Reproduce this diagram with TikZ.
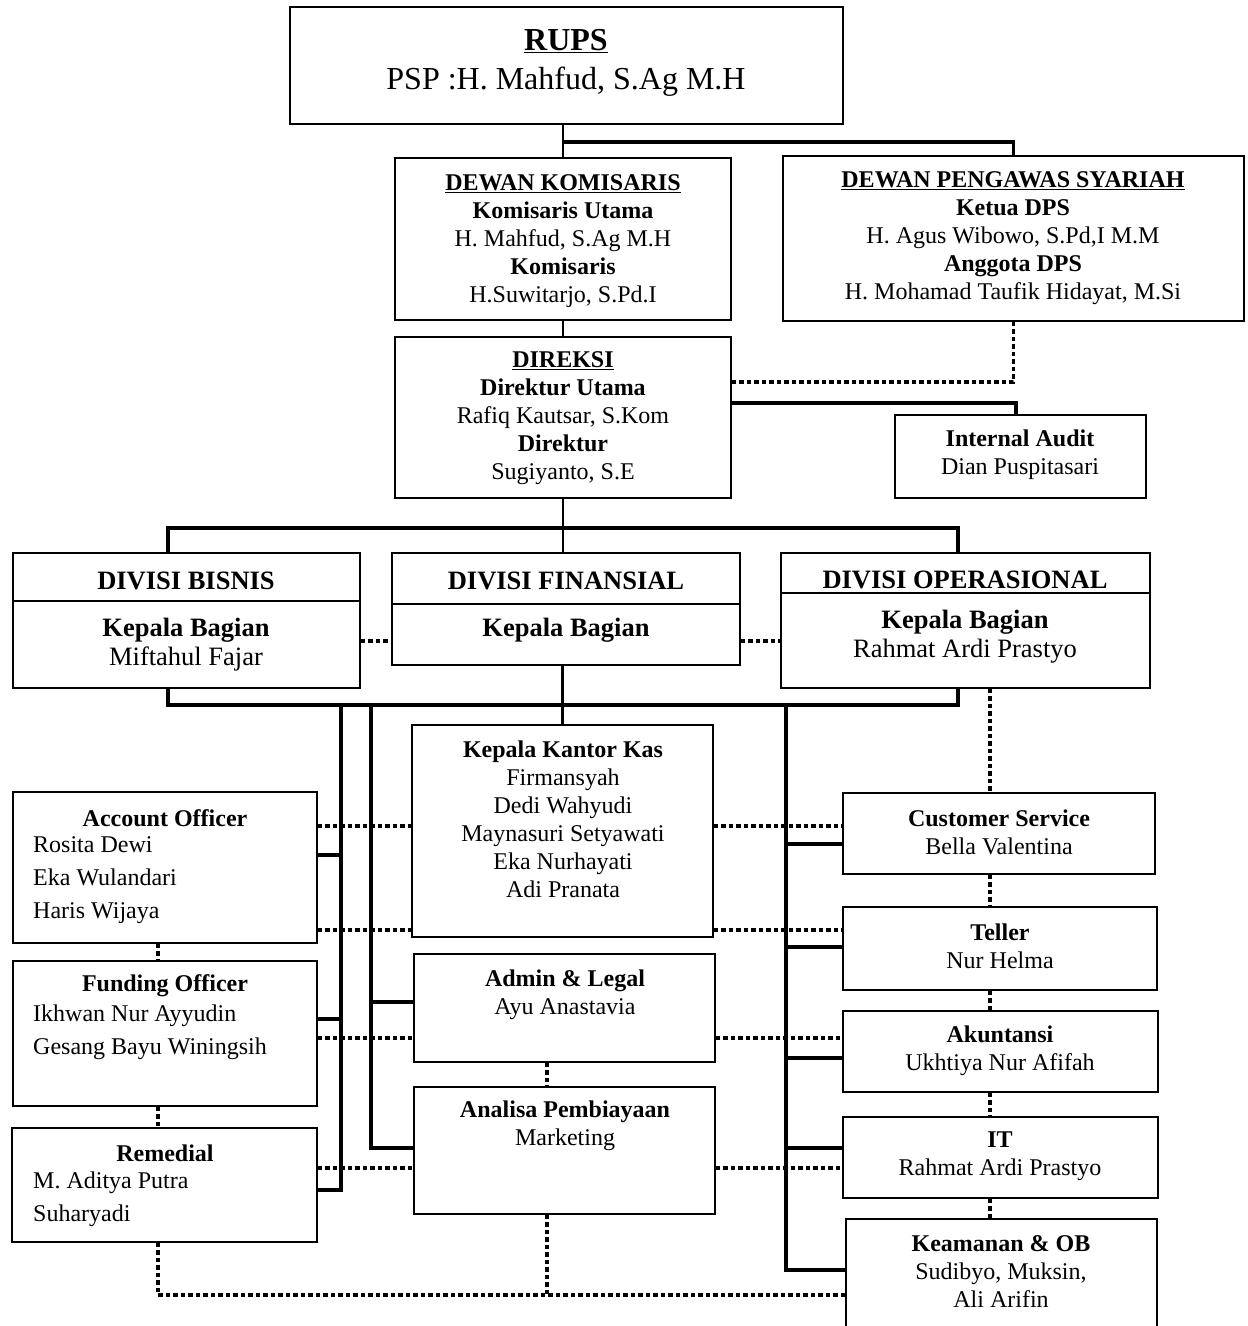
\documentclass[tikz,border=0pt]{standalone}
\usepackage{fontspec}
\setmainfont{Liberation Serif}
\newcommand\fa{\fontsize{24}{28}\selectfont}
\newcommand\fb{\fontsize{26.5}{29}\selectfont}
\newcommand\fc{\fontsize{32}{38}\selectfont}
\newcommand\fl{\fontsize{24}{33}\selectfont}
\newcommand\orgbox[5]{\node[box, minimum width={#4-#2}, minimum height={#5-#3}] (#1) at ({(#2+#4)/2},{(#3+#5)/2}) {};}
\begin{document}
\begin{tikzpicture}[x=1pt,y=-1pt,
  box/.style={draw, line width=1.8pt, inner sep=0pt},
  bar/.style={line width=3.8pt},
  stem/.style={line width=2.7pt},
  dotl/.style={line width=3.8pt, dash pattern=on 4.5pt off 3pt},
  txt/.style={inner sep=0pt, align=center, font=\fa},
  txtb/.style={inner sep=0pt, align=center, font=\fb},
  txtl/.style={inner sep=0pt, align=left, font=\fl, anchor=west},
]
\useasboundingbox[fill=white] (0,0) rectangle (1248,1326);

% boxes
\orgbox{rups}{290}{7}{843}{124}
\orgbox{dk}{395}{158}{731}{320}
\orgbox{dps}{783}{156}{1244}{321}
\orgbox{dir}{395}{337}{731}{498}
\orgbox{ia}{895}{415}{1146}{498}
\orgbox{dbh}{13}{553}{360}{601}
\orgbox{db}{13}{601}{360}{688}
\orgbox{dfh}{392}{553}{740}{604}
\orgbox{df}{392}{604}{740}{665}
\orgbox{doh}{781}{553}{1150}{593}
\orgbox{dop}{781}{593}{1150}{688}
\orgbox{ao}{13}{792}{317}{943}
\orgbox{fo}{13}{961}{317}{1106}
\orgbox{rem}{12}{1128}{317}{1242}
\orgbox{kkk}{412}{725}{713}{937}
\orgbox{adm}{414}{954}{715}{1062}
\orgbox{ana}{414}{1087}{715}{1214}
\orgbox{cs}{843}{793}{1155}{874}
\orgbox{tel}{843}{907}{1157}{990}
\orgbox{aku}{843}{1011}{1158}{1092}
\orgbox{it}{843}{1117}{1158}{1198}
\orgbox{kea}{846}{1219}{1157}{1336}

% helper coordinates
\coordinate (j1) at (563,142);
\coordinate (y382) at (0,382);
\coordinate (y403) at (0,403);
\coordinate (iaT) at (1016,403);
\coordinate (d1) at (168,528);
\coordinate (d2) at (958,528);
\coordinate (e1) at (168,705);
\coordinate (e2) at (958,705);
\coordinate (v1) at (341,705);
\coordinate (v2) at (371,705);
\coordinate (v3) at (786,705);
\coordinate (yAo) at (0,855);
\coordinate (yFo) at (0,1019);
\coordinate (yRem) at (0,1190);
\coordinate (yAdm) at (0,1002);
\coordinate (yAna) at (0,1148);
\coordinate (yCs) at (0,844);
\coordinate (yTel) at (0,947);
\coordinate (yAku) at (0,1058);
\coordinate (yIt) at (0,1148);
\coordinate (yKea) at (0,1270);
\coordinate (y641) at (0,641);
\coordinate (y826) at (0,826);
\coordinate (y930) at (0,930);
\coordinate (y1038) at (0,1038);
\coordinate (y1168) at (0,1168);
\coordinate (y1295) at (0,1295);
\coordinate (lx) at (158,0);
\coordinate (mx) at (547,0);
\coordinate (rx) at (990,0);

% solid connectors
\draw[stem] (dk.north) -- (dk.north |- rups.south);
\draw[bar] (j1) -| (dps.north);
\draw[stem] (dk.south) -- (dir.north);
\draw[bar] (dir.east |- y403) -- (iaT) -- (iaT |- ia.north);
\draw[stem] (dir.south) -- (dir.south |- d1) -- (dir.south |- dfh.north);
\draw[bar] (dbh.north -| d1) -- (d1) -- (d2) -- (doh.north -| d2);
\draw[bar] (db.south -| e1) -- (e1) -- (e2) -- (dop.south -| e2);
\draw[bar] (kkk.north |- df.south) -- (kkk.north);
\draw[bar] (v1) |- (rem.east |- yRem);
\draw[bar] (ao.east |- yAo) -- (v1 |- yAo);
\draw[bar] (fo.east |- yFo) -- (v1 |- yFo);
\draw[bar] (v2) |- (ana.west |- yAna);
\draw[bar] (v2 |- yAdm) -- (adm.west |- yAdm);
\draw[bar] (v3) |- (kea.west |- yKea);
\draw[bar] (v3 |- yCs) -- (cs.west |- yCs);
\draw[bar] (v3 |- yTel) -- (tel.west |- yTel);
\draw[bar] (v3 |- yAku) -- (aku.west |- yAku);
\draw[bar] (v3 |- yIt) -- (it.west |- yIt);

% dotted connectors
\draw[dotl] (dps.south) |- (dir.east |- y382);
\draw[dotl] (db.east |- y641) -- (df.west |- y641);
\draw[dotl] (df.east |- y641) -- (dop.west |- y641);
\draw[dotl] (ao.east |- y826) -- (kkk.west |- y826);
\draw[dotl] (kkk.east |- y826) -- (cs.west |- y826);
\draw[dotl] (ao.east |- y930) -- (kkk.west |- y930);
\draw[dotl] (kkk.east |- y930) -- (tel.west |- y930);
\draw[dotl] (fo.east |- y1038) -- (adm.west |- y1038);
\draw[dotl] (adm.east |- y1038) -- (aku.west |- y1038);
\draw[dotl] (rem.east |- y1168) -- (ana.west |- y1168);
\draw[dotl] (ana.east |- y1168) -- (it.west |- y1168);
\draw[dotl] (ao.south -| lx) -- (fo.north -| lx);
\draw[dotl] (fo.south -| lx) -- (rem.north -| lx);
\draw[dotl] (rem.south -| lx) |- (kea.west |- y1295);
\draw[dotl] (adm.south -| mx) -- (ana.north -| mx);
\draw[dotl] (ana.south -| mx) -- (mx |- y1295);
\draw[dotl] (dop.south -| rx) -- (cs.north -| rx);
\draw[dotl] (cs.south -| rx) -- (tel.north -| rx);
\draw[dotl] (tel.south -| rx) -- (aku.north -| rx);
\draw[dotl] (aku.south -| rx) -- (it.north -| rx);
\draw[dotl] (it.south -| rx) -- (kea.north -| rx);

% texts
\node[inner sep=0pt, anchor=base, font=\fc\bfseries] (tRups) at (566,50) {\underline{RUPS}};
\node[inner sep=0pt, anchor=base, font=\fc] (tPsp) at (566,89) {PSP :H. Mahfud, S.Ag M.H};
\node[txt] (tDk) at (563,241) {\underline{\textbf{DEWAN KOMISARIS}}\\\textbf{Komisaris Utama}\\H. Mahfud, S.Ag M.H\\\textbf{Komisaris}\\H.Suwitarjo, S.Pd.I};
\node[txt] (tDps) at (1013,238) {\underline{\textbf{DEWAN PENGAWAS SYARIAH}}\\\textbf{Ketua DPS}\\H. Agus Wibowo, S.Pd,I M.M\\\textbf{Anggota DPS}\\H. Mohamad Taufik Hidayat, M.Si};
\node[txt] (tDir) at (563,418) {\underline{\textbf{DIREKSI}}\\\textbf{Direktur Utama}\\Rafiq Kautsar, S.Kom\\\textbf{Direktur}\\Sugiyanto, S.E};
\node[txt] (tIa) at (1020,455) {\textbf{Internal Audit}\\Dian Puspitasari};
\node[txtb] (tDbh) at (186,581) {\textbf{DIVISI BISNIS}};
\node[txtb] (tDb) at (186,645) {\textbf{Kepala Bagian}\\Miftahul Fajar};
\node[txtb] (tDfh) at (566,581) {\textbf{DIVISI FINANSIAL}};
\node[txtb] (tDf) at (566,630) {\textbf{Kepala Bagian}};
\node[txtb] (tDoh) at (965,580) {\textbf{DIVISI OPERASIONAL}};
\node[txtb] (tDo) at (965,637) {\textbf{Kepala Bagian}\\Rahmat Ardi Prastyo};
\node[txt] (tAoh) at (165,818) {\textbf{Account Officer}};
\node[txtl] (tAo) at (33,880) {Rosita Dewi\\Eka Wulandari\\Haris Wijaya};
\node[txt] (tFoh) at (165,986) {\textbf{Funding Officer}};
\node[txtl] (tFo) at (33,1032) {Ikhwan Nur Ayyudin\\Gesang Bayu Winingsih};
\node[txt] (tRemh) at (165,1153) {\textbf{Remedial}};
\node[txtl] (tRem) at (33,1199) {M. Aditya Putra\\Suharyadi};
\node[txt] (tKkk) at (563,819) {\textbf{Kepala Kantor Kas}\\Firmansyah\\Dedi Wahyudi\\Maynasuri Setyawati\\Eka Nurhayati\\Adi Pranata};
\node[txt] (tAdm) at (565,995) {\textbf{Admin \& Legal}\\Ayu Anastavia};
\node[txt] (tAna) at (565,1126) {\textbf{Analisa Pembiayaan}\\Marketing};
\node[txt] (tCs) at (999,832) {\textbf{Customer Service}\\Bella Valentina};
\node[txt] (tTel) at (1000,946) {\textbf{Teller}\\Nur Helma};
\node[txt] (tAku) at (1000,1051) {\textbf{Akuntansi}\\Ukhtiya Nur Afifah};
\node[txt] (tIt) at (1000,1156) {\textbf{IT}\\Rahmat Ardi Prastyo};
\node[txt] (tKea) at (1001,1272) {\textbf{Keamanan \& OB}\\Sudibyo, Muksin,\\Ali Arifin};
\end{tikzpicture}
\end{document}
